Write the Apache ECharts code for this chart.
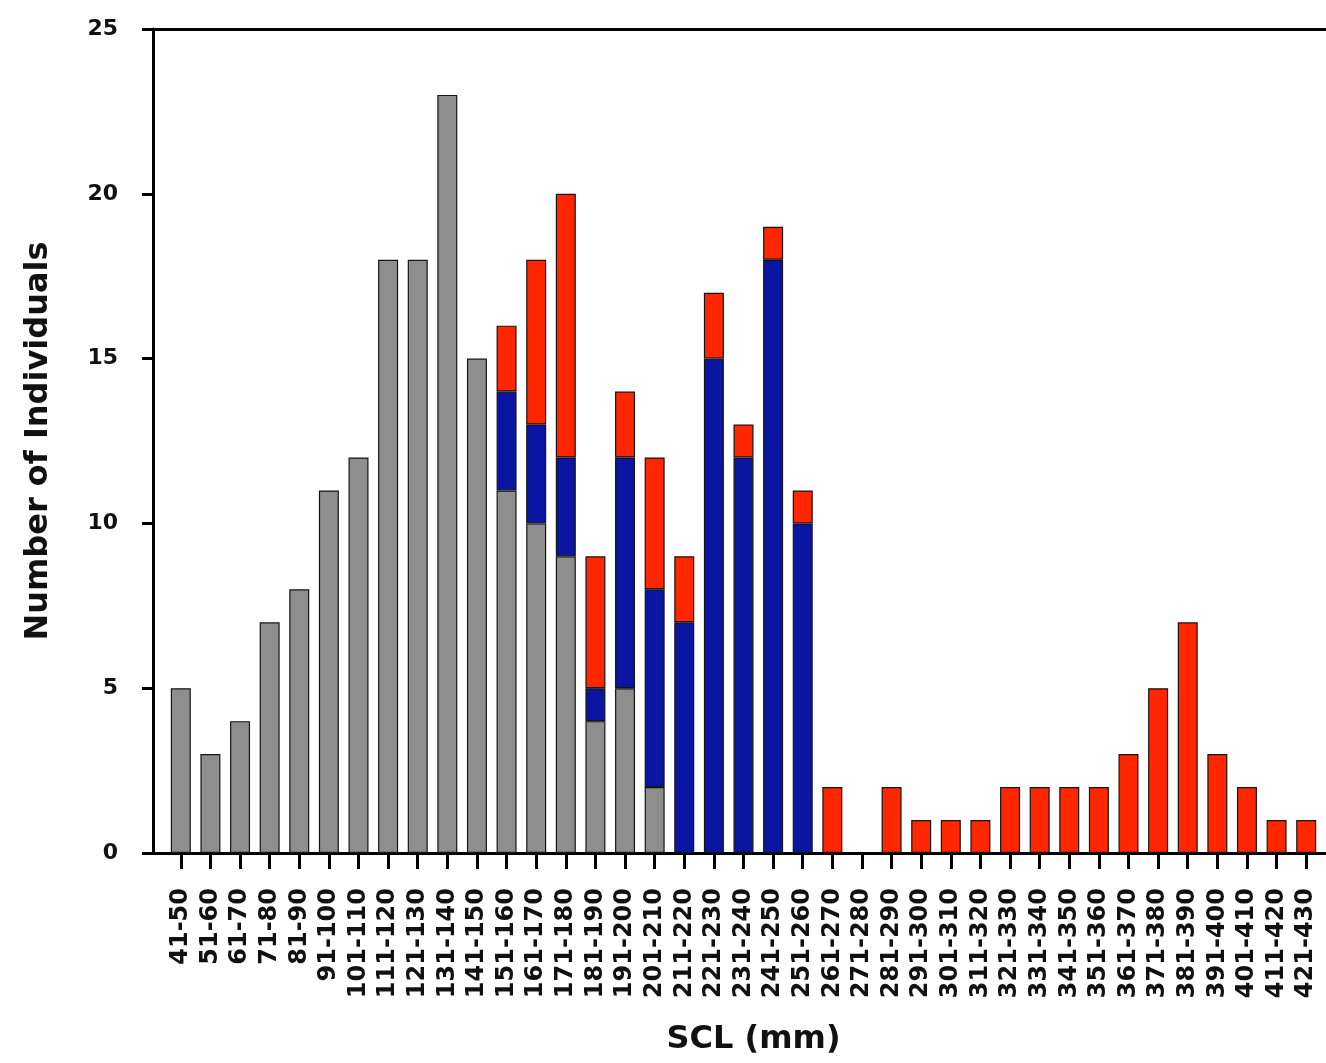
<!DOCTYPE html>
<html>
<head>
<meta charset="utf-8">
<script src="https://cdn.jsdelivr.net/npm/echarts@6/dist/echarts.min.js"></script>
<style>
html,body{margin:0;padding:0;background:#fff;}
#chart{width:1326px;height:1063px;}
</style>
</head>
<body>
<div id="chart"></div>
<script>
const categories = ["41-50","51-60","61-70","71-80","81-90","91-100","101-110","111-120","121-130","131-140",
  "141-150","151-160","161-170","171-180","181-190","191-200","201-210","211-220","221-230","231-240",
  "241-250","251-260","261-270","271-280","281-290","291-300","301-310","311-320","321-330","331-340",
  "341-350","351-360","361-370","371-380","381-390","391-400","401-410","411-420","421-430"];
const grayValues = [5,3,4,7,8,11,12,18,18,23,15,11,10,9,4,5,2,0,0,0,0,0,0,0,0,0,0,0,0,0,0,0,0,0,0,0,0,0,0];
const blueValues = [0,0,0,0,0,0,0,0,0,0,0,3,3,3,1,7,6,7,15,12,18,10,0,0,0,0,0,0,0,0,0,0,0,0,0,0,0,0,0];
const redValues  = [0,0,0,0,0,0,0,0,0,0,0,2,5,8,4,2,4,2,2,1,1,1,2,0,2,1,1,1,2,2,2,2,3,5,7,3,2,1,1];
const yTicks = { min: 0, max: 25, interval: 5 };
const xName = "SCL (mm)";
const yName = "Number of Individuals";

const FONT = "DejaVu Sans";
const clean = a => a.map(v => v === 0 ? '-' : v);
const line = { color: '#000', width: 3 };

const chart = echarts.init(document.getElementById('chart'));
const barStyle = c => ({ color: c, borderColor: '#151515', borderWidth: 1.2 });
chart.setOption({
  animation: false,
  backgroundColor: '#fff',
  grid: [
    { left: 153, right: 0, top: 29, bottom: 210 },
    { left: 166, right: 5, top: 29, bottom: 210 }
  ],
  xAxis: [{
    gridIndex: 0, type: 'value', min: 0, max: 1, position: 'bottom',
    axisLine: { show: true, onZero: false, lineStyle: line },
    axisTick: { show: false }, axisLabel: { show: false }, splitLine: { show: false }
  }, {
    gridIndex: 0, type: 'value', min: 0, max: 1, position: 'top',
    axisLine: { show: true, onZero: false, lineStyle: line },
    axisTick: { show: false }, axisLabel: { show: false }, splitLine: { show: false }
  }, {
    gridIndex: 1, type: 'category', data: categories, position: 'bottom',
    axisLine: { show: false },
    axisTick: { show: true, alignWithLabel: true, length: 16, lineStyle: line },
    axisLabel: { rotate: 90, interval: 0, margin: 35, color: '#111', fontFamily: FONT, fontWeight: 'bold', fontSize: 24 },
    name: xName, nameLocation: 'middle', nameGap: 171,
    nameTextStyle: { fontFamily: FONT, fontWeight: 'bold', fontSize: 32, color: '#111', padding: [0, 0, 0, 20] }
  }],
  yAxis: [{
    gridIndex: 0, type: 'value', min: yTicks.min, max: yTicks.max, interval: yTicks.interval,
    axisLine: { show: true, lineStyle: line },
    axisTick: { show: true, inside: false, length: 11, lineStyle: line },
    splitLine: { show: false },
    axisLabel: { margin: 35, color: '#111', fontFamily: FONT, fontWeight: 'bold', fontSize: 22 },
    name: yName, nameLocation: 'middle', nameGap: 98, nameRotate: 90,
    nameTextStyle: { fontFamily: FONT, fontWeight: 'bold', fontSize: 32, color: '#111' }
  }, {
    gridIndex: 1, type: 'value', min: yTicks.min, max: yTicks.max, interval: yTicks.interval,
    show: false, splitLine: { show: false }
  }],
  series: [
    { type: 'bar', xAxisIndex: 2, yAxisIndex: 1, stack: 'n', data: clean(grayValues), barWidth: 20, itemStyle: barStyle('#8e8e8e') },
    { type: 'bar', xAxisIndex: 2, yAxisIndex: 1, stack: 'n', data: clean(blueValues), barWidth: 20, itemStyle: barStyle('#0a15a2') },
    { type: 'bar', xAxisIndex: 2, yAxisIndex: 1, stack: 'n', data: clean(redValues), barWidth: 20, itemStyle: barStyle('#ff2600') }
  ]
});
</script>
</body>
</html>
